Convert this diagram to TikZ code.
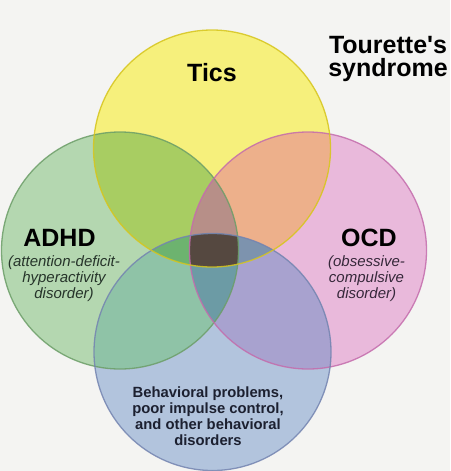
\documentclass[tikz,border=0pt]{standalone}
\usepackage{fontspec}
\newfontfamily\arial{Liberation Sans}
\definecolor{bg}{HTML}{F4F4F2}
\definecolor{cY}{HTML}{F6F07C}
\definecolor{cG}{HTML}{B4D7B0}
\definecolor{cP}{HTML}{E9B9DB}
\definecolor{cB}{HTML}{B2C4DD}
\definecolor{cYG}{HTML}{A8CD62}
\definecolor{cYP}{HTML}{EDB08B}
\definecolor{cGB}{HTML}{8FC3A7}
\definecolor{cPB}{HTML}{A8A2CF}
\definecolor{cYGP}{HTML}{B78F88}
\definecolor{cGPB}{HTML}{6C9BA5}
\definecolor{cYGB}{HTML}{6DB36F}
\definecolor{cYPB}{HTML}{7D93AE}
\definecolor{cQ}{HTML}{554840}
\definecolor{sY}{HTML}{D6C51C}
\definecolor{sG}{HTML}{6C9E68}
\definecolor{sP}{HTML}{C46CAC}
\definecolor{sB}{HTML}{7484B0}
\definecolor{tG}{HTML}{26342A}
\definecolor{tP}{HTML}{36283A}
\definecolor{tB}{HTML}{1C2030}
\newcommand\vennY{(212,148.5) circle[radius=118.5pt]}
\newcommand\vennG{(120,250.5) circle[radius=118.5pt]}
\newcommand\vennP{(308,250.5) circle[radius=118.5pt]}
\newcommand\vennB{(212.5,352) circle[radius=118.5pt]}
\tikzset{
  rim/.style={line width=1.3pt, draw opacity=0.85},
  bigtitle/.style={font=\arial\fontsize{25}{23}\selectfont\bfseries, text=black, inner sep=0pt},
  subtitle/.style={font=\arial\fontsize{15}{16}\selectfont\itshape, align=center, inner sep=0pt},
  boldsmall/.style={font=\arial\fontsize{14.8}{16}\selectfont\bfseries, align=center, inner sep=0pt, text=tB}
}
\begin{document}
\begin{tikzpicture}[x=1pt,y=-1pt]
\fill[bg] (0,0) rectangle (450,471);
\useasboundingbox (0,0) rectangle (450,471);
% single sets
\fill[cG] \vennG;
\fill[cP] \vennP;
\fill[cY] \vennY;
\fill[cB] \vennB;
% pairs
\begin{scope}
  \clip \vennY;
  \fill[cYG] \vennG;
  \fill[cYP] \vennP;
\end{scope}
\begin{scope}
  \clip \vennB;
  \fill[cGB] \vennG;
  \fill[cPB] \vennP;
\end{scope}
% triples
\begin{scope}
  \clip \vennY; \clip \vennG;
  \fill[cYGP] \vennP;
  \fill[cYGB] \vennB;
\end{scope}
\begin{scope}
  \clip \vennB; \clip \vennP;
  \fill[cGPB] \vennG;
  \fill[cYPB] \vennY;
\end{scope}
% all four
\begin{scope}
  \clip \vennY; \clip \vennG; \clip \vennP;
  \fill[cQ] \vennB;
\end{scope}
% outlines
\draw[rim, sG] \vennG;
\draw[rim, sP] \vennP;
\draw[rim, sB] \vennB;
\draw[rim, sY] \vennY;
% texts
\node[bigtitle, anchor=base] (tics) at (212,81) {Tics};
\node[bigtitle, align=center, anchor=base] (tourette) at (388,76) {Tourette's\\syndrome};
\node[bigtitle, anchor=base] (adhd) at (59.5,246) {ADHD};
\node[subtitle, text=tG, anchor=base] (adhdsub) at (64,298.5) {(attention-deficit-\\hyperactivity\\disorder)};
\node[bigtitle, anchor=base] (ocd) at (369,246) {OCD};
\node[subtitle, text=tP, anchor=base] (ocdsub) at (366.5,298) {(obsessive-\\compulsive\\disorder)};
\node[boldsmall, anchor=base] (behav) at (208,445.5) {Behavioral problems,\\poor impulse control,\\and other behavioral\\disorders};
\end{tikzpicture}
\end{document}
